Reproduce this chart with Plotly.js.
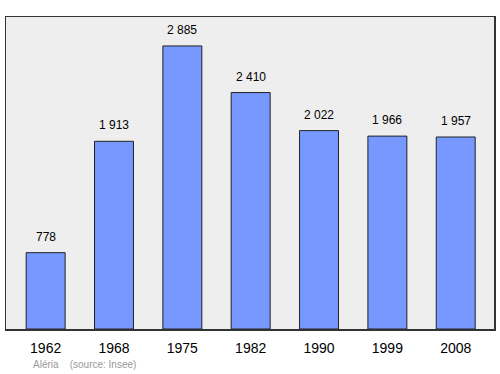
<!DOCTYPE html>
<html><head><meta charset="utf-8">
<script src="https://cdn.plot.ly/plotly-3.0.1.min.js"></script>
<style>html,body{margin:0;padding:0;background:#fff}</style>
</head><body><div id="chart" style="width:500px;height:374px"></div>
<script>
const years = ["1962","1968","1975","1982","1990","1999","2008"];
const population = [778, 1913, 2885, 2410, 2022, 1966, 1957];
const valueLabels = ["778","1 913","2 885","2 410","2 022","1 966","1 957"];
const FONT = 'Liberation Sans, Arial, sans-serif';

const trace = {
  type: 'bar', x: years, y: population, width: 0.57,
  marker: {color: '#7799ff', line: {color: '#222', width: 1}},
  hoverinfo: 'skip'
};
const annotations = years.map((yr, i) => ({
  x: i, y: population[i], text: valueLabels[i], showarrow: false,
  xref: 'x', yref: 'y',
  yanchor: 'bottom', yshift: 7, font: {family: FONT, size: 12, color: '#000'}
}));
annotations.push({xref:'paper', yref:'paper', x: 0.052, y: -0.115, xanchor:'left', yanchor:'middle',
  text: 'Aléria&nbsp;&nbsp;&nbsp;&nbsp;(source: Insee)', showarrow:false,
  font:{family: FONT, size:10, color:'#999'}});
Plotly.newPlot('chart', [trace], {
  width: 500, height: 374,
  margin: {l: 6, r: 6, t: 17, b: 45, pad: 0},
  paper_bgcolor: '#fff', plot_bgcolor: '#eeeeee',
  showlegend: false, bargap: 0.43,
  xaxis: {type: 'category', range: [-0.58, 6.56], showgrid: false, zeroline: false,
    showline: true, mirror: true, linecolor: '#333', linewidth: 1.5, ticks: '',
    ticklabelstandoff: 6,
    tickfont: {family: FONT, size: 14, color: '#000'}},
  yaxis: {range: [0, 3180], showgrid: false, zeroline: false, showticklabels: false,
    showline: true, mirror: true, linecolor: '#333', linewidth: 1.5, ticks: ''},
  annotations: annotations
}, {staticPlot: true});
</script></body></html>
